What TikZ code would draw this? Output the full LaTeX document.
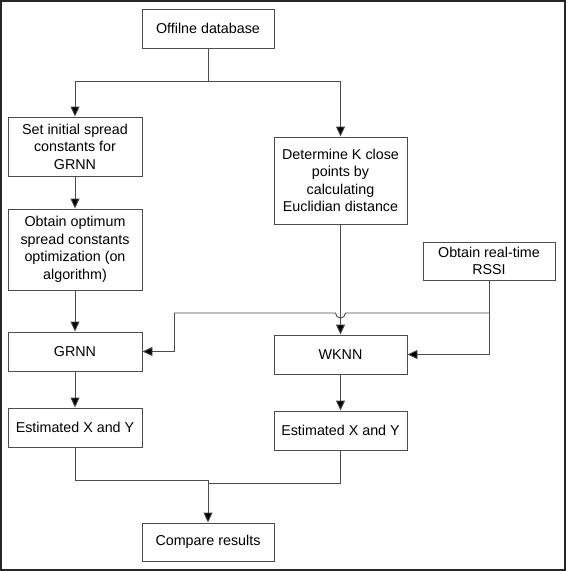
\documentclass[tikz,border=0pt]{standalone}
\usepackage{fontspec}
\setmainfont{Liberation Sans}[Ligatures=NoCommon]
\usetikzlibrary{arrows.meta}
\begin{document}
\begin{tikzpicture}[x=1pt,y=-1pt,
  box/.style={draw=black!70,line width=0.9pt,inner sep=0pt,align=center,
    font=\fontsize{14.3}{17.5}\selectfont,text=black},
  conn/.style={draw=black!70,line width=0.9pt},
  arr/.style={conn,-{Triangle[width=9pt,length=10pt,fill=black]}}]
\useasboundingbox (0,0) rectangle (566,571);
\draw[line width=1.6pt,black!85] (1,1) rectangle (565,570);
\node[box,minimum width=132pt,minimum height=39pt] (db) at (208,28.5) {Offilne database};
\node[box,minimum width=134pt,minimum height=59pt] (init) at (75,146.5) {Set initial spread\\constants for\\GRNN};
\node[box,minimum width=134pt,minimum height=81pt] (opt) at (75,249.5) {Obtain optimum\\spread constants\\optimization (on\\algorithm)};
\node[box,minimum width=133pt,minimum height=87pt] (det) at (340.5,180.5) {Determine K close\\points by\\calculating\\Euclidian distance};
\node[box,minimum width=132pt,minimum height=38pt] (rssi) at (489,261) {Obtain real-time\\RSSI};
\node[box,minimum width=134pt,minimum height=39pt] (grnn) at (75,351.5) {GRNN};
\node[box,minimum width=133pt,minimum height=39pt] (wknn) at (340.5,354.5) {WKNN};
\node[box,minimum width=134pt,minimum height=39pt] (estL) at (75,427.5) {Estimated X and Y};
\node[box,minimum width=133pt,minimum height=39pt] (estR) at (340.5,430.5) {Estimated X and Y};
\node[box,minimum width=132pt,minimum height=38pt] (cmp) at (208,542) {Compare results};
\coordinate (j1) at (208,81);
\coordinate (j2) at (489,313);
\coordinate (hopR) at (345.5,313);
\coordinate (hopL) at (335.5,313);
\coordinate (k1) at (174,313);
\coordinate (j3) at (208,480);
\coordinate (j4) at (208,483);
\draw[conn] (db.south) -- (j1);
\draw[arr] (j1) -| (init.north);
\draw[arr] (j1) -| (det.north);
\draw[arr] (init.south) -- (opt.north);
\draw[arr] (opt.south) -- (grnn.north);
\draw[arr] (grnn.south) -- (estL.north);
\draw[arr] (det.south) -- (wknn.north);
\draw[arr] (wknn.south) -- (estR.north);
\draw[conn] (rssi.south) -- (j2);
\draw[arr] (j2) |- (wknn.east);
\draw[conn] (j2) -- (hopR) arc[start angle=0,end angle=-180,radius=5pt] -- (k1);
\draw[arr] (k1) |- (grnn.east);
\draw[conn] (estL.south) |- (j3);
\draw[conn] (estR.south) |- (j4);
\draw[arr] (j3) -- (cmp.north);
\end{tikzpicture}
\end{document}
